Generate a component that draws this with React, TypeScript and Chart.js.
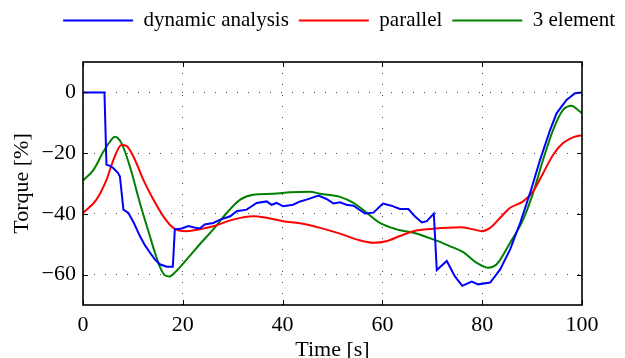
import React, { useEffect, useRef } from "react";
import { Chart, registerables } from "chart.js";

Chart.register(...registerables);

// ---- data ----
const dynT = [0, 4.3, 4.7, 5.5, 6.0, 7.0, 7.4, 8.1, 9.1, 10.2, 11.4, 12.4, 13.4, 14.4, 15.4, 16.8, 18.0, 18.4, 19.8, 21.1, 22.3, 23.4, 24.4, 26.1, 27.5, 29.5, 30.8, 32.8, 34.8, 36.8, 37.8, 38.8, 40.1, 42.1, 43.5, 44.8, 47.2, 48.8, 50.2, 51.5, 52.8, 54.2, 56.5, 58.2, 60.1, 61.8, 63.5, 65.2, 66.5, 67.9, 68.9, 70.3, 70.9, 72.9, 74.5, 76.0, 77.9, 79.2, 81.6, 83.6, 85.6, 87.6, 89.6, 91.6, 93.6, 94.9, 96.9, 98.6, 100];
const dynV = [0, 0, -23.8, -24.3, -24.8, -26.5, -27.7, -38.6, -39.7, -43, -47.3, -50.3, -52.7, -55, -56.6, -57.4, -57.4, -45.1, -44.8, -44, -44.5, -44.8, -43.5, -43, -41.9, -40.8, -39.1, -38.6, -36.4, -35.9, -37, -36.4, -37.5, -37, -35.9, -35.3, -34, -35.1, -36.6, -36.2, -37, -37.3, -39.9, -39.6, -36.6, -37.3, -38.4, -38.4, -40.8, -42.8, -42.4, -39.9, -58.5, -55.5, -60.5, -63.7, -62.3, -63.2, -62.6, -58.3, -51.7, -43, -33.1, -22.2, -12.4, -6.9, -2.5, -0.3, 0];

const parT = [0, 2.7, 4.7, 6.1, 7.7, 8.7, 10.1, 12.1, 14.1, 16.1, 18.1, 20.8, 23.4, 26.1, 30.1, 34.1, 36.8, 40.1, 43.5, 47.5, 51.5, 54.8, 58.2, 60.8, 63.5, 66.2, 70.2, 75.6, 78.2, 79.9, 81.6, 83.6, 85.6, 88.2, 90.2, 92.2, 94.2, 96.2, 98.2, 100];
const parV = [-39.7, -35.3, -28.8, -22.2, -17.3, -17.6, -21.1, -28.8, -35.3, -40.8, -44.6, -45.7, -45.1, -44.1, -41.9, -40.8, -41.3, -42.4, -43.1, -44.6, -46.5, -48.4, -49.5, -49, -47.3, -45.7, -44.9, -44.4, -45.1, -45.7, -44.6, -41.3, -38, -35.9, -32.6, -26.6, -20.6, -16.7, -14.8, -14.1];

const elT = [0, 2.1, 4.1, 5.4, 6.4, 7.7, 9.4, 11.4, 13.4, 14.5, 15.5, 16.4, 17.3, 18.3, 20.8, 23.4, 26.1, 28.8, 31.5, 34.1, 38.1, 41.5, 45.5, 47.5, 51.5, 54.2, 56.9, 59.5, 62.8, 66.2, 70.2, 73.5, 76.2, 78.9, 81.2, 82.9, 85.6, 88.2, 90.2, 92.2, 94.2, 96.2, 97.9, 98.9, 100];
const elV = [-29, -25.5, -19.5, -16.2, -14.6, -16.7, -24.4, -36.4, -47.3, -53.2, -57.8, -60.2, -60.6, -59.5, -55, -50, -45.1, -39.7, -35.3, -33.7, -33.4, -32.9, -32.7, -33.4, -34.4, -36.4, -39.7, -43, -45.1, -46.2, -48.4, -50.6, -52.6, -56.1, -57.7, -56.6, -49.5, -41.9, -33.1, -22.2, -12.4, -5.8, -4.4, -5.4, -6.9];

const seriesNames = ["dynamic analysis", "parallel", "3 element"];
const xTicks = [0, 20, 40, 60, 80, 100];
const yTicks = [-60, -40, -20, 0];
const xRange = [0, 100];
const yRange = [-70, 10];

const FONT = "'Liberation Serif', 'Times New Roman', serif";

const pts = (t: number[], v: number[]) => t.map((x, i) => ({ x, y: v[i] }));

const legendSpacePlugin = {
  id: "legendSpace",
  beforeUpdate(chart: any) {
    const lg = chart.legend;
    if (lg && !lg.__patched) {
      const orig = lg.fit.bind(lg);
      lg.fit = function () {
        orig();
        this.height = 62;
      };
      lg.__patched = true;
    }
  },
};

const framePlugin = {
  id: "frame",
  afterDraw(chart: any) {
    const { ctx, chartArea } = chart;
    const { left, right, top, bottom } = chartArea;
    const xs = chart.scales.x;
    const ys = chart.scales.y;
    ctx.save();
    ctx.strokeStyle = "#000";
    ctx.lineWidth = 1;
    const L = 5;
    ctx.beginPath();
    xTicks.forEach((v) => {
      const px = Math.round(xs.getPixelForValue(v)) + 0.5;
      ctx.moveTo(px, bottom);
      ctx.lineTo(px, bottom - L);
      ctx.moveTo(px, top);
      ctx.lineTo(px, top + L);
    });
    yTicks.forEach((v) => {
      const py = Math.round(ys.getPixelForValue(v)) + 0.5;
      ctx.moveTo(left, py);
      ctx.lineTo(left + L, py);
      ctx.moveTo(right, py);
      ctx.lineTo(right - L, py);
    });
    ctx.stroke();
    ctx.lineWidth = 1.6;
    ctx.strokeRect(left, top, right - left, bottom - top);
    ctx.restore();
  },
};

export default function App() {
  const ref = useRef<HTMLCanvasElement>(null);
  useEffect(() => {
    if (!ref.current) return;
    Chart.defaults.color = "#000";
    const chart = new Chart(ref.current, {
      type: "line",
      data: {
        datasets: [
          {
            label: seriesNames[0],
            data: pts(dynT, dynV),
            borderColor: "#0000ff",
            backgroundColor: "#0000ff",
            borderWidth: 2,
            pointRadius: 0,
            tension: 0,
          },
          {
            label: seriesNames[1],
            data: pts(parT, parV),
            borderColor: "#ff0000",
            backgroundColor: "#ff0000",
            borderWidth: 2,
            pointRadius: 0,
            cubicInterpolationMode: "monotone",
          },
          {
            label: seriesNames[2],
            data: pts(elT, elV),
            borderColor: "#008000",
            backgroundColor: "#008000",
            borderWidth: 2,
            pointRadius: 0,
            cubicInterpolationMode: "monotone",
          },
        ],
      },
      options: {
        animation: false,
        responsive: false,
        devicePixelRatio: 1,
        layout: { padding: 0 },
        plugins: {
          legend: {
            position: "top",
            align: "end",
            labels: {
              usePointStyle: true,
              pointStyle: "line",
              pointStyleWidth: 70,
              padding: 10,
              color: "#000",
              font: { family: FONT, size: 21 },
            },
          },
          tooltip: { enabled: false },
        },
        scales: {
          x: {
            type: "linear",
            min: xRange[0],
            max: xRange[1],
            afterBuildTicks: (s: any) => {
              s.ticks = xTicks.map((value) => ({ value }));
            },
            afterFit: (s: any) => {
              s.height = 53;
              s.paddingLeft = 0;
              s.paddingRight = 43;
            },
            grid: {
              drawTicks: false,
              color: "rgba(0,0,0,0.7)",
              lineWidth: 1,
            },
            border: { display: false, dash: [1, 10] },
            ticks: {
              padding: 7,
              color: "#000",
              font: { family: FONT, size: 22 },
              maxRotation: 0,
            },
            title: {
              display: true,
              text: "Time [s]",
              color: "#000",
              font: { family: FONT, size: 22 },
              padding: { top: 0, bottom: -5 },
            },
          },
          y: {
            type: "linear",
            min: yRange[0],
            max: yRange[1],
            afterBuildTicks: (s: any) => {
              s.ticks = yTicks.map((value) => ({ value }));
            },
            afterFit: (s: any) => {
              s.width = 83;
              s.paddingTop = 0;
              s.paddingBottom = 0;
            },
            grid: {
              drawTicks: false,
              color: "rgba(0,0,0,0.7)",
              lineWidth: 1,
            },
            border: { display: false, dash: [1, 10] },
            ticks: {
              padding: 7,
              color: "#000",
              font: { family: FONT, size: 22 },
              callback: (v: any) => (Number(v) < 0 ? "\u2212" + Math.abs(Number(v)) : String(v)),
            },
            title: {
              display: true,
              text: "Torque [%]",
              color: "#000",
              font: { family: FONT, size: 22 },
              padding: { top: 9, bottom: 0 },
            },
          },
        },
      },
      plugins: [legendSpacePlugin, framePlugin],
    } as any);
    return () => chart.destroy();
  }, []);

  return (
    <div style={{ position: "fixed", left: 0, top: 0, width: 625, height: 358, background: "#fff" }}>
      <canvas ref={ref} width={625} height={358} style={{ display: "block" }} />
    </div>
  );
}
